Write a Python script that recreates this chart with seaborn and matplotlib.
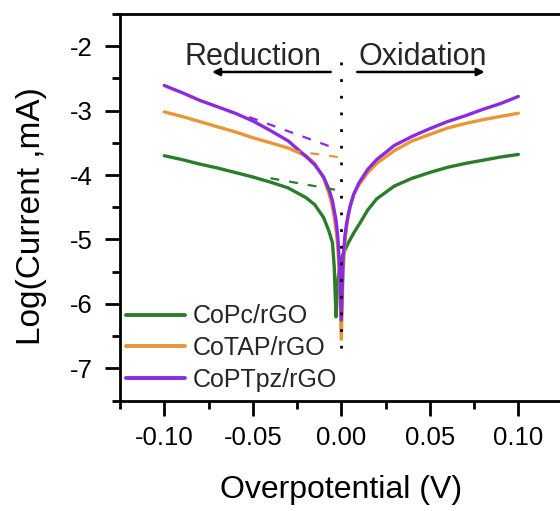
import numpy as np
import pandas as pd
import matplotlib
matplotlib.use("Agg")
import matplotlib.pyplot as plt
import seaborn as sns
from matplotlib.ticker import MultipleLocator, FixedLocator

# ---------------- data ----------------
overpotential = [-0.100, -0.090, -0.080, -0.070, -0.060, -0.050, -0.040, -0.030,
                 -0.020, -0.015, -0.010, -0.007, -0.005, -0.004, -0.003, -0.002,
                 -0.001, 0.000, 0.001, 0.002, 0.003, 0.004, 0.005, 0.007, 0.010,
                 0.015, 0.020, 0.030, 0.040, 0.050, 0.060, 0.070, 0.080, 0.090, 0.100]

copc = [-3.70, -3.76, -3.83, -3.89, -3.96, -4.03, -4.11, -4.20,
        -4.35, -4.46, -4.66, -4.87, -5.05, -5.42, -6.20, -5.65,
        -5.42, -5.30, -5.23, -5.17, -5.11, -5.05, -5.00, -4.90, -4.77,
        -4.54, -4.37, -4.17, -4.05, -3.96, -3.88, -3.82, -3.77, -3.72, -3.68]

cotap = [-3.02, -3.09, -3.17, -3.25, -3.33, -3.42, -3.50, -3.58,
         -3.70, -3.82, -4.05, -4.28, -4.50, -4.66, -4.85, -5.10,
         -5.60, -6.55, -5.50, -5.05, -4.80, -4.63, -4.50, -4.30, -4.15,
         -3.96, -3.82, -3.62, -3.47, -3.37, -3.27, -3.20, -3.14, -3.09, -3.04]

coptpz = [-2.61, -2.72, -2.84, -2.94, -3.04, -3.16, -3.31, -3.47,
          -3.71, -3.84, -4.03, -4.22, -4.40, -4.55, -4.70, -4.95,
          -5.40, -6.25, -5.30, -4.95, -4.75, -4.60, -4.48, -4.30, -4.12,
          -3.91, -3.76, -3.54, -3.40, -3.28, -3.17, -3.08, -2.98, -2.89, -2.78]

labels = ["CoPc/rGO", "CoTAP/rGO", "CoPTpz/rGO"]
colors = ["#2b7d2b", "#ea9536", "#8a2be2"]

# Tafel extrapolation lines (x start/end, y start/end)
tafel_x = [[-0.040, -0.003], [-0.028, -0.002], [-0.052, -0.002]]
tafel_y = [[-4.05, -4.23], [-3.62, -3.72], [-3.10, -3.60]]

# dotted zero line span
zero_line_y = [-2.24, -6.81]

xticks = [-0.10, -0.05, 0.00, 0.05, 0.10]
yticks = [-2, -3, -4, -5, -6, -7]

# ---------------- figure ----------------
sns.set_theme(style="ticks")
plt.rcParams["font.family"] = ["Liberation Sans", "DejaVu Sans"]

fig = plt.figure(figsize=(5.6, 5.11), dpi=100)
ax = fig.add_axes([120 / 560, 1 - 400.5 / 511, 442.6 / 560, 386.5 / 511])

series = [copc, cotap, coptpz]
frames = []
for lab, vals in zip(labels, series):
    frames.append(pd.DataFrame({"x": overpotential, "y": vals, "sample": lab}))
df = pd.concat(frames, ignore_index=True)

sns.lineplot(data=df, x="x", y="y", hue="sample", palette=colors,
             hue_order=labels, estimator=None, sort=True, lw=2.4, ax=ax)

for tx, ty, c in zip(tafel_x, tafel_y, colors):
    ax.plot(tx, ty, color=c, lw=1.6, dashes=(4, 4.5))

ax.plot([0, 0], zero_line_y, color="black", lw=2.0, linestyle=(0, (1, 5)))

ax.set_xlim(-0.125, 0.125)
ax.set_ylim(-7.5, -1.5)
ax.xaxis.set_major_locator(FixedLocator(xticks))
ax.yaxis.set_major_locator(FixedLocator(yticks))
ax.xaxis.set_minor_locator(MultipleLocator(0.025))
ax.yaxis.set_minor_locator(MultipleLocator(0.5))
ax.set_xticklabels([f"{v:.2f}" for v in xticks])
ax.set_yticklabels([f"{v:d}" for v in yticks])

for s in ax.spines.values():
    s.set_linewidth(2.0)
    s.set_color("black")
ax.tick_params(which="major", direction="out", length=10.5, width=2.0,
               labelsize=18.5, colors="black")
ax.tick_params(axis="x", which="major", pad=8)
ax.tick_params(axis="y", which="major", pad=9)
ax.tick_params(which="minor", direction="out", length=5.5, width=2.0,
               colors="black")

ax.set_xlabel("Overpotential (V)", fontsize=23, color="black")
ax.set_ylabel("Log(Current ,mA)", fontsize=24, color="black")
ax.xaxis.set_label_coords(0.5, -0.232)
ax.xaxis.label.set_va("center")
ax.yaxis.set_label_coords(-0.199, 0.476)
ax.yaxis.label.set_va("center")
ax.yaxis.label.set_ha("center")

# annotations
ax.text(-0.050, -2.29, "Reduction", fontsize=22, ha="center", va="baseline")
ax.text(0.046, -2.29, "Oxidation", fontsize=22, ha="center", va="baseline")
ax.annotate("", xy=(-0.073, -2.40), xytext=(-0.006, -2.40),
            arrowprops=dict(arrowstyle="-|>", lw=1.8, color="black",
                            mutation_scale=11, shrinkA=0, shrinkB=0))
ax.annotate("", xy=(0.081, -2.40), xytext=(0.009, -2.40),
            arrowprops=dict(arrowstyle="-|>", lw=1.8, color="black",
                            mutation_scale=11, shrinkA=0, shrinkB=0))

leg = ax.legend(loc="upper left", bbox_to_anchor=(0.014, 0.249), frameon=False,
                fontsize=18, handlelength=2.35, handletextpad=0.3,
                labelspacing=0.31, borderaxespad=0, borderpad=0)
for h in leg.get_lines():
    h.set_linewidth(2.8)

fig.savefig("out.png", dpi=100)
